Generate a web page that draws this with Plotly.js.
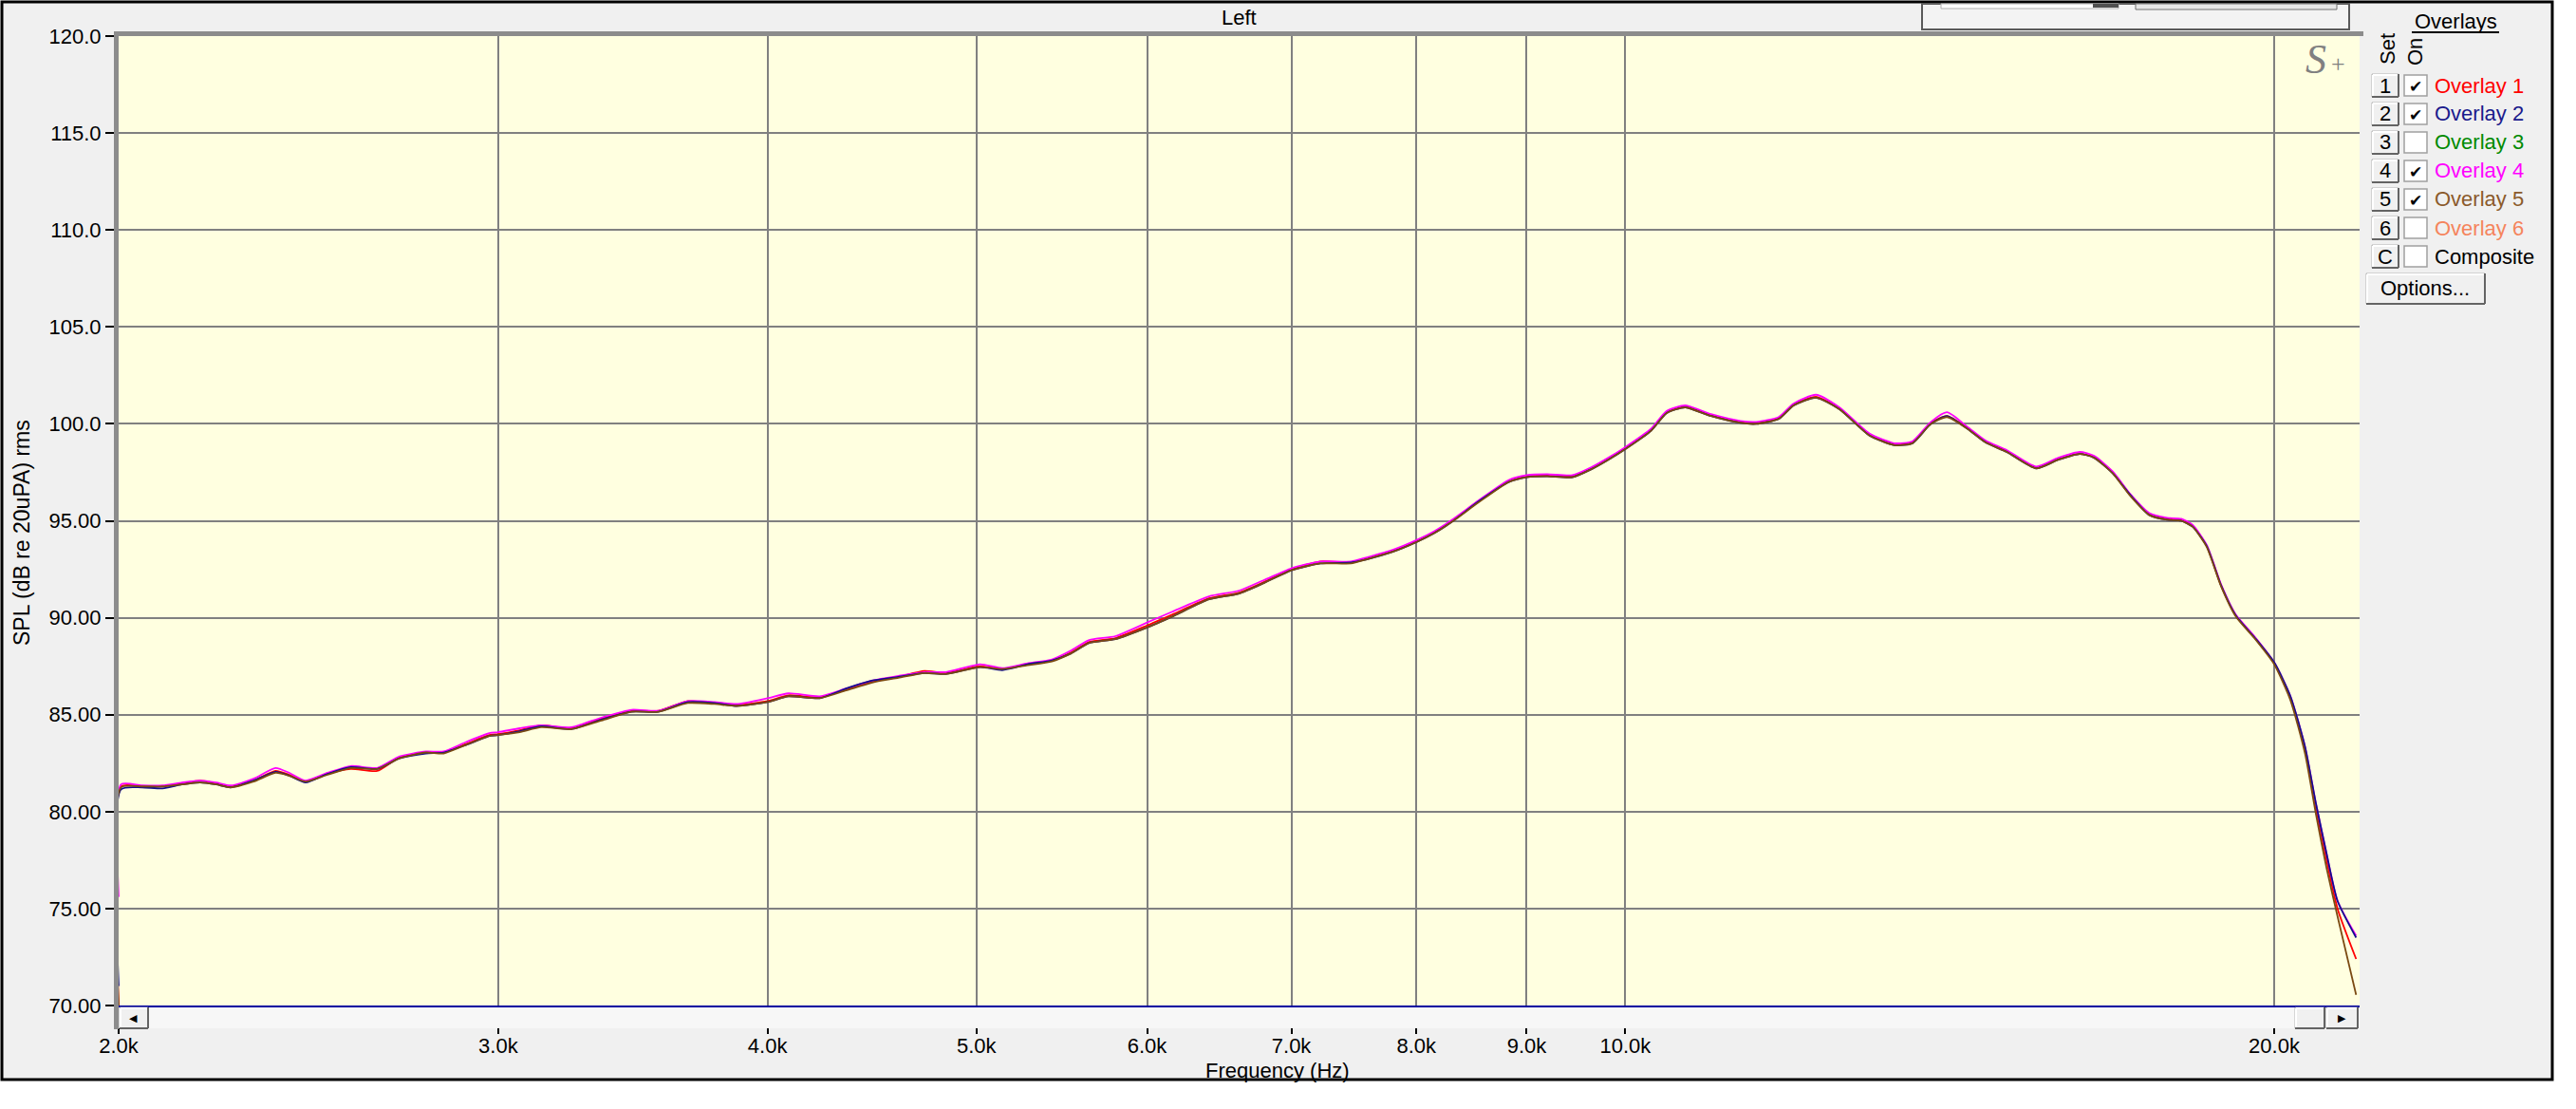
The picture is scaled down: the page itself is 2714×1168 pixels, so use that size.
<!DOCTYPE html>
<html><head><meta charset="utf-8">
<script src="https://cdn.plot.ly/plotly-3.0.1.min.js"></script>
<style>html,body{margin:0;padding:0;background:#fff;overflow:hidden}</style>
</head><body><div id="chart" style="width:2714px;height:1168px"></div>
<script>
// ---------------- DATA ----------------
const freq = [2000,2005,2050,2096,2140,2182,2220,2254,2310,2365,2400,2442,2500,2563,2636,2700,2777,2830,2900,2972,3000,3070,3141,3243,3350,3459,3560,3674,3780,3870,4000,4090,4230,4350,4470,4600,4730,4840,5020,5140,5280,5420,5530,5640,5800,6000,6160,6410,6620,6800,7000,7220,7460,7580,7800,8000,8150,8310,8550,8830,9000,9200,9450,9640,9820,10000,10280,10450,10660,10960,11310,11500,11780,11970,12260,12570,12980,13330,13590,13860,14100,14410,14690,15030,15510,15880,16250,16500,16830,17160,17500,17840,18110,18330,18610,18900,19200,19580,20000,20350,20670,20910,21150,21400,21830];

const overlay1 = [70.0,81.3,81.3,81.3,81.45,81.6,81.45,81.3,81.6,82.1,
 81.9,81.55,81.95,82.2,82.1,82.8,83.05,83.05,83.5,83.95,
 84.0,84.2,84.45,84.3,84.8,85.2,85.2,85.7,85.6,85.5,
 85.7,86.0,85.9,86.3,86.7,86.95,87.25,87.15,87.5,87.35,
 87.6,87.8,88.2,88.75,88.95,89.6,90.15,91.0,91.3,91.85,
 92.5,92.9,92.85,93.05,93.45,93.95,94.4,95.0,96.0,97.05,
 97.3,97.35,97.3,97.7,98.2,98.75,99.7,100.6,100.9,100.45,
 100.1,100.05,100.3,101.0,101.4,100.8,99.45,98.95,99.05,100.05,
 100.4,99.8,99.1,98.6,97.75,98.2,98.45,98.3,97.5,96.3,
 95.35,95.1,95.05,94.75,93.7,91.65,90.1,89.0,87.65,85.85,
 83.2,80.2,77.5,75.0,72.4];

const overlay2 = [71.0,81.15,81.25,81.2,81.4,81.5,81.4,81.25,81.6,82.05,
 81.85,81.5,81.95,82.3,82.2,82.75,83.0,83.05,83.45,83.9,
 83.95,84.15,84.4,84.25,84.75,85.15,85.15,85.65,85.6,85.45,
 85.65,85.95,85.85,86.35,86.75,86.95,87.15,87.1,87.45,87.3,
 87.6,87.8,88.15,88.7,88.9,89.5,90.05,90.95,91.25,91.8,
 92.45,92.8,92.85,93.0,93.4,93.9,94.35,94.95,96.0,97.0,
 97.25,97.3,97.25,97.65,98.15,98.7,99.65,100.55,100.85,100.4,
 100.05,100.0,100.25,100.95,101.35,100.75,99.4,98.9,99.0,100.0,
 100.4,99.75,99.05,98.55,97.7,98.15,98.45,98.25,97.45,96.3,
 95.3,95.05,95.0,94.7,93.7,91.65,90.1,89.0,87.7,85.95,
 83.35,80.45,77.85,75.4,73.5];

const overlay4 = [75.6,81.4,81.35,81.35,81.5,81.6,81.5,81.35,81.7,82.25,
 82.0,81.6,82.0,82.35,82.25,82.85,83.1,83.1,83.6,84.05,
 84.1,84.3,84.45,84.35,84.85,85.25,85.2,85.7,85.65,85.55,
 85.85,86.1,85.95,86.35,86.75,87.0,87.2,87.2,87.6,87.4,
 87.65,87.85,88.3,88.85,89.05,89.75,90.3,91.1,91.4,91.95,
 92.55,92.9,92.9,93.1,93.5,94.0,94.45,95.05,96.05,97.1,
 97.35,97.4,97.35,97.75,98.25,98.8,99.75,100.65,100.95,100.5,
 100.15,100.1,100.35,101.05,101.5,100.85,99.5,99.0,99.1,100.1,
 100.6,99.85,99.15,98.65,97.8,98.25,98.55,98.35,97.55,96.35,
 95.4,95.15,95.1,94.8,93.75,91.7,90.15,89.05,87.7,85.95,
 83.35,80.45,77.85,75.4,73.6];

const overlay5 = [70.0,81.25,81.3,81.3,81.4,81.5,81.4,81.25,81.55,82.0,
 81.85,81.55,81.9,82.25,82.2,82.75,83.05,83.0,83.45,83.9,
 83.95,84.1,84.35,84.25,84.7,85.15,85.15,85.6,85.55,85.45,
 85.65,85.95,85.85,86.25,86.65,86.9,87.15,87.1,87.45,87.35,
 87.55,87.75,88.15,88.7,88.9,89.5,90.05,90.95,91.25,91.8,
 92.45,92.8,92.8,93.0,93.4,93.9,94.35,94.95,95.95,97.0,
 97.25,97.3,97.25,97.65,98.15,98.7,99.65,100.55,100.85,100.4,
 100.05,100.0,100.25,100.95,101.35,100.75,99.4,98.9,99.0,100.0,
 100.35,99.75,99.05,98.55,97.7,98.15,98.45,98.25,97.45,96.25,
 95.3,95.05,95.0,94.7,93.65,91.6,90.05,88.95,87.6,85.75,
 83.0,79.9,77.1,74.6,70.55];

const yTickVals = [70,75,80,85,90,95,100,105,110,115,120];
const yTickText = ['70.00','75.00','80.00','85.00','90.00','95.00','100.0','105.0','110.0','115.0','120.0'];
const xTickVals = [2000,3000,4000,5000,6000,7000,8000,9000,10000,20000];
const xTickText = ['2.0k','3.0k','4.0k','5.0k','6.0k','7.0k','8.0k','9.0k','10.0k','20.0k'];

const legendKeys = ['1','2','3','4','5','6','C'];
const legendLabels = ['Overlay 1','Overlay 2','Overlay 3','Overlay 4','Overlay 5','Overlay 6','Composite'];
const legendChecked = [true,true,false,true,true,false,false];

const titleText = 'Left';
const xTitleText = 'Frequency (Hz)';
const yTitleText = 'SPL (dB re 20uPA) rms';

// ---------------- STYLE / GEOMETRY ----------------
const FONT = 'Liberation Sans, Arial, sans-serif';
const legendColors = ['#ff0000','#1a1a8c','#008a00','#ff00ff','#8b5a2b','#f5845c','#000000'];
const W = 2714, H = 1168, L = 125, R = 2486, T = 38, B = 1059;
const PW = R - L, PH = B - T;
const px = X => (X - L) / PW;
const py = Y => (B - Y) / PH;

function rect(x0, y0, x1, y1, fill, lineColor, lineWidth, layer) {
  return {type:'rect', xref:'paper', yref:'paper', x0:px(x0), x1:px(x1), y0:py(y1), y1:py(y0),
    fillcolor:fill, line:{color:lineColor||'rgba(0,0,0,0)', width:lineWidth||0}, layer:layer||'above'};
}
function seg(x0, y0, x1, y1, color, width) {
  return {type:'line', xref:'paper', yref:'paper', x0:px(x0), x1:px(x1), y0:py(y0), y1:py(y1),
    line:{color:color, width:width}, layer:'above'};
}
function button(x0, y0, x1, y1) {
  return [
    rect(x0, y0, x1, y1, '#f0f0f0', '#b4b4b4', 1),
    seg(x0+1, y0+1, x1-1, y0+1, '#ffffff', 2),
    seg(x0+1, y0+1, x0+1, y1-1, '#ffffff', 2),
    seg(x0, y1, x1, y1, '#646464', 2),
    seg(x1, y0, x1, y1, '#646464', 2)
  ];
}
function text(X, Y, t, size, color, opts) {
  return Object.assign({xref:'paper', yref:'paper', x:px(X), y:py(Y), text:t, showarrow:false,
    xanchor:'center', yanchor:'middle', font:{family:FONT, size:size, color:color}}, opts||{});
}

const shapes = [];
// outer window frame and plot area
shapes.push(rect(2, 2, 2689, 1137, '#f0f0f0', '#000000', 3, 'below'));
shapes.push(rect(L, T, R, B, '#ffffe0', null, 0, 'below'));
// top-right partial control box
shapes.push(rect(2025, 4, 2475, 31, '#f3f3f3', '#5a5a5a', 2));
shapes.push(rect(2045, 4, 2232, 9, '#ffffff', '#b0b0b0', 1));
shapes.push(rect(2205, 4, 2232, 8, '#505050', null, 0));
shapes.push(rect(2250, 4, 2462, 10, '#e6e6e6', '#707070', 1));
// 3D gray border top & left of plot
shapes.push(rect(120, 33, 2490, 38, '#8c8c8c', null, 0));
shapes.push(rect(120, 33, 125, 1084, '#8c8c8c', null, 0));
// scrollbar under x axis
shapes.push(rect(L, 1061, R, 1083, '#f7f7f7', null, 0));
button(126, 1061, 156, 1083).forEach(s => shapes.push(s));
button(2418, 1061, 2449, 1083).forEach(s => shapes.push(s));
button(2451, 1061, 2484, 1083).forEach(s => shapes.push(s));
// legend: underline, buttons, checkboxes, options
shapes.push(seg(2541, 34, 2633, 34, '#000000', 2));
legendKeys.forEach((k, i) => {
  const yc = 90 + 30 * i;
  button(2499, yc - 12, 2527, yc + 12).forEach(s => shapes.push(s));
  shapes.push(rect(2533, yc - 11, 2557, yc + 11, '#ffffff', '#a0a0a0', 1.5));
});
button(2493, 288, 2618, 320).forEach(s => shapes.push(s));

const annotations = [];
annotations.push(text(1305, 18, titleText, 22, '#000'));
annotations.push(text(1346, 1127, xTitleText, 22, '#000'));
annotations.push(text(23, 561, yTitleText, 23, '#000', {textangle:-90}));
annotations.push(text(2587, 22, 'Overlays', 22, '#000'));
annotations.push(text(2515, 52, 'Set', 22, '#000', {textangle:-90}));
annotations.push(text(2545, 55, 'On', 22, '#000', {textangle:-90}));
legendKeys.forEach((k, i) => {
  const yc = 90 + 30 * i;
  annotations.push(text(2513, yc, k, 22, '#000'));
  if (legendChecked[i]) annotations.push(text(2545, yc + 1, '\u2714', 17, '#000', {font:{family:'DejaVu Sans', size:17, color:'#000'}}));
  annotations.push(text(2563, yc, legendLabels[i], 22, legendColors[i], {xanchor:'left'}));
});
annotations.push(text(2555, 304, 'Options...', 22, '#000'));
// scroll arrows
annotations.push(text(140, 1072, '\u25C0', 11, '#000', {font:{family:'DejaVu Sans', size:11, color:'#000'}}));
annotations.push(text(2467, 1072, '\u25B6', 11, '#000', {font:{family:'DejaVu Sans', size:11, color:'#000'}}));
// S+ logo
annotations.push(text(2440, 62, 'S', 44, '#808080', {font:{family:'Liberation Serif', size:44, color:'#808080', style:'italic'}}));
annotations.push(text(2463, 68, '+', 26, '#808080', {font:{family:'Liberation Serif', size:26, color:'#808080'}}));

const lineTrace = (y, color, name) => ({x:freq, y:y, type:'scatter', mode:'lines', name:name,
  line:{color:color, width:1.8, shape:'spline', smoothing:0.6}, hoverinfo:'skip'});

const data = [
  lineTrace(overlay1, '#ff0000', 'Overlay 1'),
  lineTrace(overlay4, '#ff00ff', 'Overlay 4'),
  lineTrace(overlay2, '#10108c', 'Overlay 2'),
  lineTrace(overlay5, '#7b4a12', 'Overlay 5')
];

const layout = {
  width: W, height: H, autosize: false,
  margin: {l: L, r: W - R, t: T, b: H - B, pad: 0},
  paper_bgcolor: '#ffffff', plot_bgcolor: 'rgba(0,0,0,0)',
  showlegend: false,
  font: {family: FONT, size: 22, color: '#000'},
  xaxis: {
    type: 'log', range: [Math.log10(2000), Math.log10(2000) + PW / 2271],
    tickvals: xTickVals, ticktext: xTickText,
    ticks: 'outside', ticklen: 28, tickwidth: 2, tickcolor: '#000',
    ticklabelstandoff: -6,
    showgrid: true, gridcolor: '#808080', gridwidth: 2,
    showline: true, linecolor: '#0000a0', linewidth: 2, zeroline: false,
    tickfont: {family: FONT, size: 22, color: '#000'}, fixedrange: true
  },
  yaxis: {
    range: [70, 120], tickvals: yTickVals, ticktext: yTickText,
    ticks: 'outside', ticklen: 13, tickwidth: 2, tickcolor: '#000',
    showgrid: true, gridcolor: '#808080', gridwidth: 2,
    showline: false, zeroline: false,
    tickfont: {family: FONT, size: 22, color: '#000'}, fixedrange: true
  },
  shapes: shapes,
  annotations: annotations
};

Plotly.newPlot('chart', data, layout, {displayModeBar: false, staticPlot: true});
</script></body></html>
